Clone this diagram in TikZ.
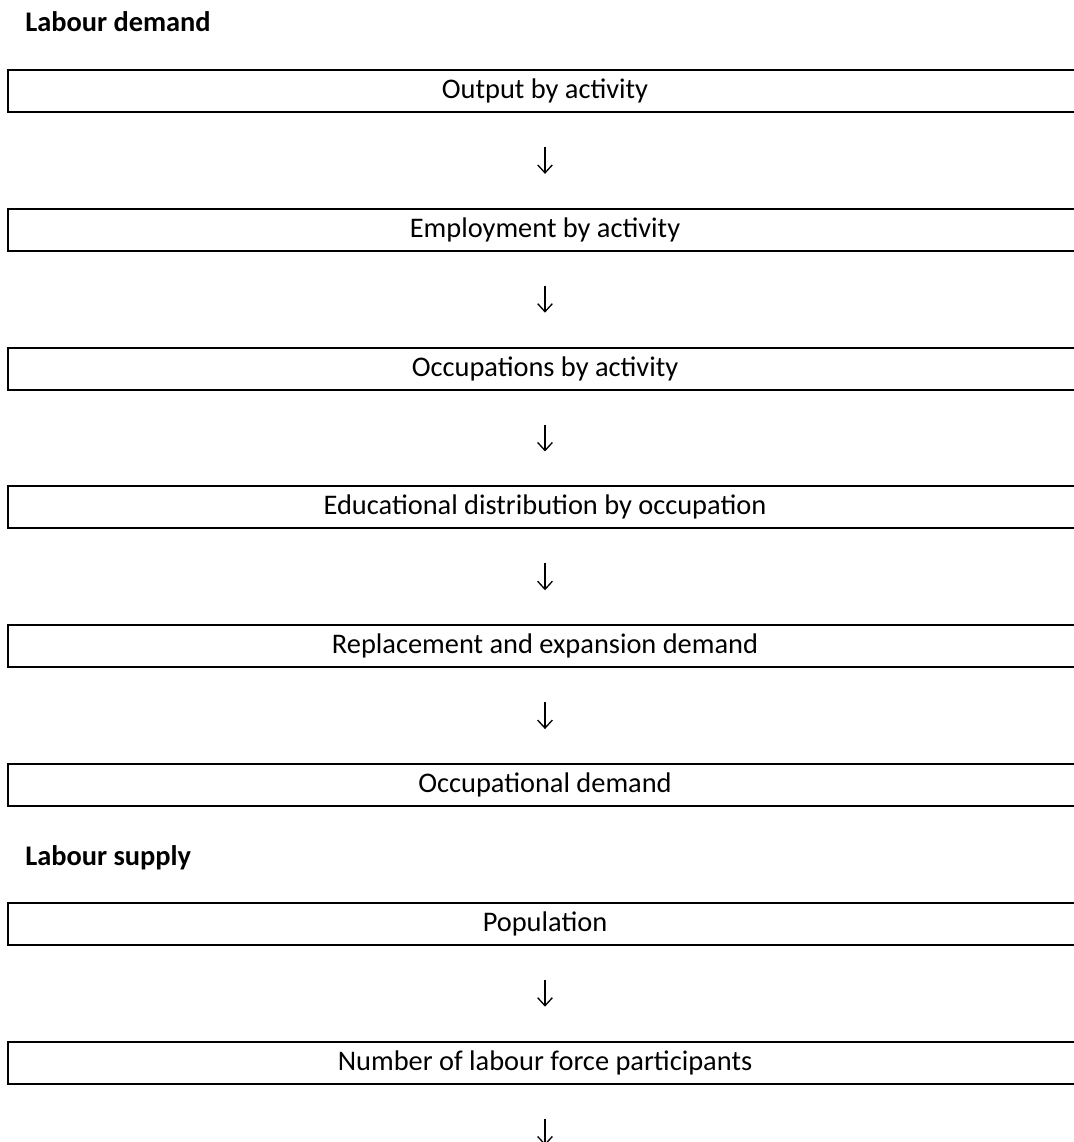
\documentclass[tikz,border=0pt]{standalone}
\usepackage{fontspec}
\setmainfont{Carlito}
\usetikzlibrary{positioning}
\usetikzlibrary{arrows.meta}
\tikzset{box/.style={draw,line width=1.5pt,inner sep=0pt,outer sep=0pt,
    minimum width=805.5pt,minimum height=31.5pt,font=\fontsize{21.3}{25}\selectfont},
    heading/.style={anchor=base west,inner sep=0pt,
    font=\fontsize{21.3}{25}\selectfont\bfseries},
    downarrow/.style={-{Straight Barb[length=6pt,width=11pt]},line width=1pt,
    shorten >=26.2pt,shorten <=26.2pt}}

\begin{document}
\begin{tikzpicture}[x=0.75pt,y=-0.75pt,node distance=72.6pt]
        \useasboundingbox (0,0) rectangle (1074,1142);
        \clip (0,0) rectangle (1074,1142);
        \node[heading] (demand) at (25,31.7) {Labour demand};
        \node[box,anchor=north west] (output) at (8,70) {Output by activity};
        \node[box,below=of output] (employment) {Employment by activity};
        \node[box,below=of employment] (occupations) {Occupations by activity};
        \node[box,below=of occupations] (education) {Educational distribution by occupation};
        \node[box,below=of education] (replacement) {Replacement and expansion demand};
        \node[box,below=of replacement] (occdemand) {Occupational demand};
        \node[heading] (supply) at (25,865) {Labour supply};
        \node[box,below=of occdemand] (population) {Population};
        \node[box,below=of population] (participants) {Number of labour force participants};
        \coordinate[below=of participants] (next);
        \draw[downarrow](output)--(employment);
        \draw[downarrow](employment)--(occupations);
        \draw[downarrow](occupations)--(education);
        \draw[downarrow](education)--(replacement);
        \draw[downarrow](replacement)--(occdemand);
        \draw[downarrow](population)--(participants);
        \draw[downarrow](participants)--(next);
    \end{tikzpicture}
\end{document}
